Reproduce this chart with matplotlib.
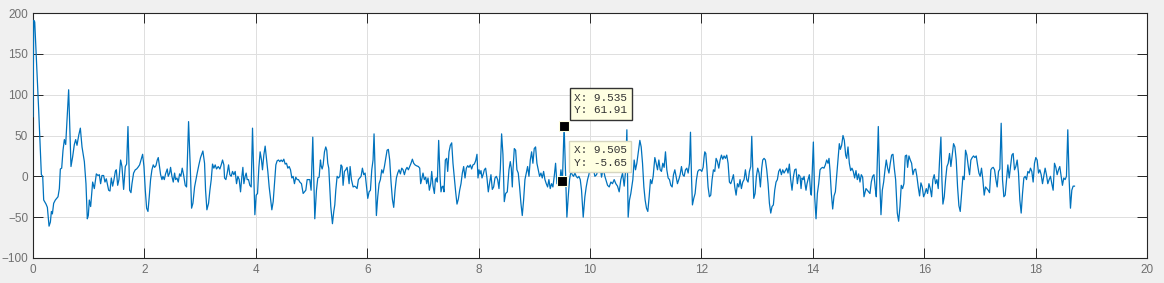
import matplotlib
matplotlib.use("Agg")
import matplotlib.pyplot as plt

# ---- data (time in s, signal values) ----
t = [
 0.0, 0.013, 0.031, 0.102, 0.132, 0.15, 0.174, 0.192, 0.234, 0.258, 0.288, 0.312, 0.33, 0.348, 0.371, 0.401,
 0.449, 0.473, 0.491, 0.515, 0.539, 0.563, 0.587, 0.64, 0.682, 0.712, 0.742, 0.766, 0.79, 0.82, 0.85, 0.88,
 0.922, 0.951, 0.975, 0.993, 1.011, 1.035, 1.071, 1.101, 1.137, 1.167, 1.191, 1.214, 1.238, 1.268, 1.292,
 1.316, 1.334, 1.358, 1.382, 1.406, 1.43, 1.454, 1.478, 1.496, 1.52, 1.543, 1.573, 1.597, 1.627, 1.657, 1.681,
 1.705, 1.735, 1.759, 1.777, 1.806, 1.836, 1.86, 1.884, 1.914, 1.944, 1.968, 1.992, 2.016, 2.04, 2.064, 2.087,
 2.111, 2.135, 2.159, 2.183, 2.207, 2.231, 2.249, 2.273, 2.291, 2.315, 2.333, 2.357, 2.38, 2.41, 2.428, 2.452,
 2.47, 2.494, 2.518, 2.542, 2.56, 2.584, 2.608, 2.632, 2.655, 2.679, 2.703, 2.733, 2.757, 2.793, 2.823, 2.847,
 2.871, 2.901, 2.925, 2.948, 2.978, 3.008, 3.05, 3.08, 3.098, 3.122, 3.152, 3.176, 3.2, 3.223, 3.247, 3.271,
 3.295, 3.325, 3.355, 3.379, 3.403, 3.427,
 3.439, 3.463, 3.487, 3.511, 3.534, 3.558, 3.582, 3.606, 3.63, 3.654, 3.678, 3.702, 3.726, 3.75, 3.768, 3.786,
 3.809, 3.827, 3.845, 3.869, 3.893, 3.917, 3.941, 3.983, 4.007, 4.031, 4.055, 4.078, 4.102, 4.12, 4.144, 4.168,
 4.192, 4.216, 4.24, 4.264, 4.288, 4.312, 4.336, 4.36, 4.383, 4.407, 4.431, 4.455, 4.479, 4.503, 4.527, 4.551,
 4.575, 4.599, 4.623, 4.647, 4.67, 4.694, 4.718, 4.742, 4.766, 4.79, 4.82, 4.85, 4.874, 4.898, 4.922, 4.946,
 4.969, 4.993, 5.023, 5.059, 5.089, 5.113, 5.137, 5.161,
 5.173, 5.191, 5.209, 5.233, 5.256, 5.274, 5.292, 5.31, 5.328, 5.346, 5.364, 5.376, 5.4, 5.418, 5.436, 5.46,
 5.484, 5.508, 5.531, 5.549, 5.567, 5.591, 5.615, 5.639, 5.657, 5.675, 5.693, 5.717, 5.747, 5.771, 5.795, 5.818,
 5.842, 5.866, 5.89, 5.914, 5.938, 5.962, 5.986, 6.01, 6.034, 6.058, 6.082, 6.105, 6.123, 6.147, 6.165, 6.189,
 6.213, 6.237, 6.261, 6.285, 6.309, 6.333, 6.357, 6.38, 6.404, 6.428, 6.452, 6.476, 6.5, 6.524, 6.548, 6.572,
 6.596, 6.62, 6.644, 6.668, 6.691, 6.715, 6.739, 6.763, 6.787, 6.811, 6.835, 6.859, 6.883,
 6.919, 6.943, 6.96, 6.978, 7.002, 7.026, 7.05, 7.068, 7.092, 7.116, 7.14, 7.158, 7.182, 7.206, 7.224, 7.241,
 7.259, 7.283, 7.307, 7.325, 7.343, 7.361, 7.379, 7.403, 7.427, 7.445, 7.469, 7.493, 7.517, 7.54, 7.564, 7.588,
 7.612, 7.636, 7.66, 7.684, 7.708, 7.732, 7.756, 7.78, 7.804, 7.827, 7.851, 7.875, 7.899, 7.923, 7.947, 7.971,
 7.989, 8.007, 8.025, 8.043, 8.061, 8.085, 8.103, 8.126, 8.15, 8.174, 8.198, 8.222, 8.246, 8.27, 8.294, 8.318,
 8.342, 8.366, 8.39, 8.413, 8.437, 8.461, 8.485, 8.515, 8.545, 8.569, 8.587, 8.605,
 8.617, 8.641, 8.665, 8.688, 8.712, 8.736, 8.76, 8.784, 8.808, 8.832, 8.856, 8.88, 8.904, 8.928, 8.952, 8.975,
 8.999, 9.023, 9.047, 9.071, 9.095, 9.119, 9.143, 9.167, 9.191, 9.215, 9.239, 9.262, 9.286, 9.31, 9.334, 9.358,
 9.382, 9.406, 9.43, 9.454, 9.478, 9.505, 9.535, 9.585, 9.609, 9.633, 9.657, 9.681, 9.705, 9.729, 9.753, 9.777,
 9.801, 9.825, 9.848, 9.878, 9.908, 9.932, 9.956, 9.98, 10.004, 10.028, 10.058, 10.088, 10.117, 10.147, 10.177,
 10.207, 10.237, 10.267,
 10.285, 10.315, 10.345, 10.375, 10.404, 10.434, 10.464, 10.494, 10.524, 10.554, 10.584, 10.614, 10.638, 10.662,
 10.685, 10.709, 10.733, 10.769, 10.793, 10.817, 10.841, 10.871, 10.895, 10.919, 10.943, 10.967, 10.99, 11.014,
 11.038, 11.062, 11.086, 11.11, 11.134, 11.164, 11.188, 11.212, 11.236, 11.26, 11.283, 11.307, 11.331, 11.355,
 11.379, 11.403, 11.427, 11.451, 11.475, 11.499, 11.523, 11.546, 11.57, 11.594, 11.618, 11.642, 11.666, 11.69,
 11.714, 11.738, 11.762, 11.786, 11.804, 11.822, 11.839, 11.863, 11.887, 11.911, 11.935, 11.959, 11.983, 12.007,
 12.031, 12.049,
 12.061, 12.079, 12.097, 12.12, 12.144, 12.168, 12.192, 12.216, 12.24, 12.264, 12.288, 12.312, 12.336, 12.36,
 12.384, 12.407, 12.431, 12.455, 12.479, 12.503, 12.527, 12.551, 12.575, 12.599, 12.623, 12.647, 12.671, 12.694,
 12.718, 12.742, 12.766, 12.79, 12.814, 12.838, 12.862, 12.886, 12.904, 12.922, 12.94, 12.964, 12.987, 13.011,
 13.035, 13.059, 13.083, 13.101, 13.125, 13.149, 13.173, 13.197, 13.221, 13.245, 13.268, 13.292, 13.316, 13.34,
 13.364, 13.388, 13.412, 13.436, 13.46, 13.484, 13.508, 13.532, 13.555, 13.579, 13.603, 13.627, 13.651, 13.675,
 13.699, 13.723, 13.747, 13.771,
 13.789, 13.807, 13.825, 13.843, 13.86, 13.878, 13.896, 13.914, 13.938, 13.962, 13.974, 14.01, 14.034, 14.058,
 14.082, 14.106, 14.13, 14.153, 14.177, 14.201, 14.225, 14.249, 14.273, 14.291, 14.309, 14.333, 14.357, 14.381,
 14.405, 14.428, 14.452, 14.476, 14.494, 14.518, 14.542, 14.566, 14.59, 14.608, 14.632, 14.656, 14.68, 14.703,
 14.727, 14.751, 14.775, 14.799, 14.823, 14.847, 14.871, 14.895, 14.919, 14.955, 14.979, 15.002, 15.026, 15.05,
 15.074, 15.098, 15.122, 15.14, 15.158, 15.176, 15.2, 15.224, 15.248, 15.272, 15.296, 15.319, 15.343, 15.367,
 15.391, 15.415, 15.439, 15.463, 15.487,
 15.517, 15.541, 15.565, 15.588, 15.612, 15.636, 15.66, 15.684, 15.702, 15.726, 15.75, 15.774, 15.798, 15.822,
 15.846, 15.869, 15.893, 15.917, 15.941, 15.965, 15.989, 16.013, 16.037, 16.061, 16.085, 16.109, 16.133, 16.156,
 16.18, 16.204, 16.228, 16.252, 16.276, 16.3, 16.318, 16.336, 16.36, 16.384, 16.408, 16.431, 16.455, 16.479,
 16.503, 16.527, 16.551, 16.575, 16.599, 16.623, 16.647, 16.671, 16.695, 16.718, 16.742, 16.766, 16.79, 16.814,
 16.838, 16.862, 16.886, 16.91, 16.934, 16.958, 16.982, 17.005, 17.029, 17.053, 17.077, 17.101, 17.125, 17.149,
 17.173, 17.197, 17.215,
 17.239, 17.263, 17.287, 17.31, 17.334, 17.358, 17.382, 17.406, 17.43, 17.454, 17.478, 17.502, 17.526, 17.55,
 17.574, 17.597, 17.621, 17.645, 17.669, 17.693, 17.717, 17.741, 17.765, 17.789, 17.813, 17.837, 17.861, 17.884,
 17.908, 17.932, 17.956, 17.98, 18.004, 18.028, 18.052, 18.076, 18.1, 18.124, 18.147, 18.171, 18.195, 18.219,
 18.243, 18.267, 18.291, 18.315, 18.339, 18.363, 18.387, 18.411, 18.434, 18.458, 18.482, 18.506, 18.53, 18.554,
 18.578, 18.602, 18.626, 18.65, 18.674, 18.698,
]

y = [
 73, 191, 189, 81, 32, 2, 0, -29, -34, -38, -61, -56, -43, -46, -33, -29,
 -25, -15, 9, 10, 32, 45, 39, 106, 12, 24, 39, 45, 38, 50, 59, 36,
 18, -9, -52, -48, -29, -37, -7, -15, 3, 1, 2, -9, 1, 1, -7,
 -3, -9, -17, -18, -2, -12, -4, 6, 8, -11, -4, 20, 12, -16, 12, 15,
 61, -17, -20, -9, 4, 8, 9, 11, 14, 21, 27, 12, -17, -39, -43, -25,
 -4, 8, 14, 11, 13, 20, 23, 11, 2, -4, 0, -4, 3, 9, 0, 4,
 11, 0, -7, 4, -4, -2, -7, 3, 0, 10, 2, -11, -13, 67, 12, -39,
 -33, -13, -4, 4, 14, 23, 31, 16, -17, -41, -33, -17, -4, 15, 10, 14,
 9, 12, 9, 14, 20, 14,
 -2, -4, 4, 14, 2, 0, 6, 2, 6, -9, 0, -4, -19, 0, 11, -9,
 0, 4, -4, -4, -11, -13, 59, -47, -23, -21, 11, 30, 20, 8, 26, 37,
 21, 6, -13, -27, -41, -31, -9, 14, 19, 20, 18, 20, 18, 21, 15, 16,
 10, 12, 8, -2, 0, -9, -1, -4, -4, -7, -9, -21, -19, -17, -4, -4,
 -4, -17, 48, -52, -17, -2, -1, 20,
 13, 9, 14, 30, 36, 32, 16, 10, -13, -37, -49, -58, -43, -35, -17, 0,
 -2, 0, 14, 12, -11, 6, 8, 11, 2, -9, 12, -4, -13, -12, -13, -15,
 -4, -2, 0, 10, 2, 4, -12, -27, -19, -17, 8, 20, 52, -4, -48, -25,
 -9, -4, 8, 4, 12, 22, 32, 33, 20, -7, -28, -38, -17, -2, 4, 8,
 3, 10, 8, 2, 8, 11, 8, 12, 16, 21, 16, 14, 13,
 12, 10, -9, -4, 4, -4, -1, -9, -2, -17, -9, 6, -12, -21, -4, -2,
 -7, 44, 0, -19, -13, -12, -19, 20, 22, 6, 30, 38, 41, 16, -2, -19,
 -34, -28, -17, -9, 4, 12, -2, 10, 13, 11, 14, 9, 14, 15, 19, 27,
 -2, 8, 3, 7, -2, 3, 8, 10, -2, -19, -8, 2, -16, -13, -2, 0,
 -4, -15, 9, 52, 27, -31, -21, -19, 8, 18, 10, -13,
 8, 34, 32, 8, 4, -13, -33, -48, -29, -4, 4, 12, 0, 20, 30, 16,
 34, 36, 16, 8, 0, 4, -2, 6, -4, -9, -13, -4, -15, -9, -13, 0,
 16, -9, -4, -9, 8, -5.65, 61.91, -50, -25, -4, 6, 2, 0, 4, 0, -2,
 0, -4, -17, -50, -25, -13, -4, 2, 12, 18, 10, 0, 2, 8, 16,
 -1, 10, 0,
 -4, -11, -13, -7, -9, -4, -9, -12, -19, -4, 4, -12, 6, 57,
 -50, -29, -21, -4, 20, 8, 16, 32, 44, 36, 16, -13, -29, -39,
 -43, -25, -4, -9, 0, 23, 16, 8, 20, 8, 6, 16, 11, 30,
 8, -2, -4, -11, -13, 2, 8, 0, -9, -4, 2, 12, 2, 0,
 8, 10, 4, 16, 54, 0, -35, -27, -21, -4, 6, 8, 8, 6,
 11, 24,
 30, 28, 12, -13, -25, -23, -4, 8, 6, 22, 18, 10, 20, 26,
 21, 25, 22, 26, 16, -7, -9, -4, 2, -13, -23, -9, -13, -4,
 -15, -7, -4, 8, -4, -7, 6, 12, 49, 12, -27, -21, 0, 10,
 4, -13, 10, 20, 22, 20, 8, -9, -33, -45, -37, -35, -17, -7,
 -4, 6, 9, 2, 8, 4, 7, 10, 4, 15, -4, -17, -1, 8,
 9, -9, 2, 0,
 -15, -2, -4, 0, -9, -17, -9, -4, 2, -21, -23, 42, -25, -52,
 -21, -9, 8, 10, 11, 10, 14, 20, 16, 22, 7, -21, -40, -24,
 -19, 0, 20, 40, 33, 38, 50, 44, 26, 22, 36, 16, 7, 10,
 6, -2, 7, -4, 3, -7, 2, -1, -25, -15, -17, -19, -21, -7,
 0, 2, -15, -25, 16, 61, -4, -47, -17, -7, 8, 20, 10, 4,
 16, 26, 27, 10, -4,
 -45, -55, -37, -11, -15, -9, 25, 26, 11, 25, 20, 16, 2, 8,
 9, 0, -13, -24, -8, -13, -25, -21, -15, -21, -9, -15, -25, -4,
 2, -9, -4, -15, 20, 48, -4, -34, -25, -4, 12, 16, 28, 12,
 26, 40, 36, 20, -13, -36, -43, -21, 0, -4, 32, 26, 13, 2,
 20, 23, 25, 23, 25, 14, 4, 0, 10, -4, -23, -13, -15, -17,
 -20, 8, 10,
 11, 8, -4, -13, 6, 9, 65, -4, -25, -23, -4, 14, -2, 12,
 26, 28, 8, 12, 20, 4, -29, -45, -21, -2, 0, -4, 6, 4,
 10, 6, -7, 16, 23, 20, 4, 8, 2, -9, 0, 10, 2, -9,
 -4, 0, -9, -17, 16, 11, 2, 8, 12, 0, -11, -2, -4, 0,
 57, -4, -39, -17, -12, -12,
]

# data-tip values shown on the chart
tip_x = [9.535, 9.505]
tip_y = [61.91, -5.65]

xticks = list(range(0, 21, 2))
yticks = list(range(-100, 201, 50))

n = min(len(t), len(y))
t = t[:n]
y = y[:n]

# ---- figure ----
fig = plt.figure(figsize=(11.64, 2.83), dpi=100, facecolor='#F0F0F0')
ax = fig.add_axes([33 / 1164, 1 - 258 / 283, (1147 - 33) / 1164, (258 - 13) / 283])
ax.set_facecolor('white')

ax.plot(t, y, color='#0072BD', linewidth=0.9, zorder=3)

ax.set_xlim(0, 20)
ax.set_ylim(-100, 200)
ax.set_xticks(xticks)
ax.set_yticks(yticks)

ax.grid(True, color='#DFDFDF', linewidth=0.7, zorder=0)
ax.set_axisbelow(True)
for s in ax.spines.values():
    s.set_color('#262626')
    s.set_linewidth(0.8)

ax.tick_params(direction='in', length=7.5, width=0.7, color='#262626',
               labelsize=8.5, labelcolor='#707070', top=True, right=True)
ax.tick_params(axis='x', pad=4.5)
ax.tick_params(axis='y', pad=3.5)
for lab in ax.get_xticklabels() + ax.get_yticklabels():
    lab.set_family(['Liberation Sans', 'DejaVu Sans'])

# data tips
ax.plot(tip_x, tip_y, linestyle='none', marker='s', markersize=7,
        markerfacecolor='black', markeredgecolor='#FFFFE1', markeredgewidth=0.8, zorder=5)

edges = ['#333333', '#D6D6C0']
offsets = [(10.4, 10.5), (11.4, 13.4)]
for xi, yi, ec, off in zip(tip_x, tip_y, edges, offsets):
    ax.annotate(f"X: {xi:.3f}\nY: {yi:g}", xy=(xi, yi), xytext=off,
                textcoords='offset pixels', ha='left', va='bottom',
                fontsize=8, family=['Liberation Mono', 'DejaVu Sans Mono'], color='#333333',
                linespacing=1.3,
                bbox=dict(boxstyle='square,pad=0.4', facecolor='#FFFFE1', edgecolor=ec, linewidth=1),
                zorder=6)

fig.savefig('out.png', dpi=100, facecolor=fig.get_facecolor())
